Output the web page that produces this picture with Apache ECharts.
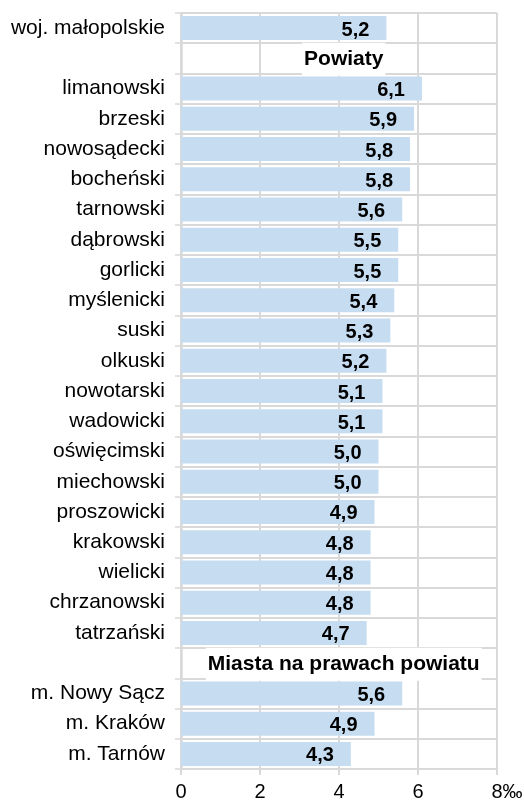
<!DOCTYPE html>
<html><head><meta charset="utf-8">
<script src="https://cdn.jsdelivr.net/npm/echarts@6/dist/echarts.min.js"></script>
<style>html,body{margin:0;padding:0;background:#fff}#c{width:524px;height:801px}</style>
</head><body><div id="c"></div>
<script>
const categories = ['woj. małopolskie','','limanowski','brzeski','nowosądecki','bocheński','tarnowski','dąbrowski','gorlicki','myślenicki','suski','olkuski','nowotarski','wadowicki','oświęcimski','miechowski','proszowicki','krakowski','wielicki','chrzanowski','tatrzański','','m. Nowy Sącz','m. Kraków','m. Tarnów'];
const values = [5.2,null,6.1,5.9,5.8,5.8,5.6,5.5,5.5,5.4,5.3,5.2,5.1,5.1,5.0,5.0,4.9,4.8,4.8,4.8,4.7,null,5.6,4.9,4.3];
const headers = [{row:1,text:'Powiaty'},{row:21,text:'Miasta na prawach powiatu'}];
const xTicks = [0,2,4,6,8];
const unit = '‰';

const headerX = 4.12;
const chart = echarts.init(document.getElementById('c'));
const font = 'Liberation Sans, Arial, sans-serif';
chart.setOption({
  animation:false,
  grid:{left:181,right:27,top:13,bottom:32,outerBoundsMode:'none',containLabel:false},
  xAxis:{type:'value',min:0,max:8,interval:2,
    axisLine:{show:false},
    axisTick:{show:true,length:6,lineStyle:{color:'#d9d9d9',width:2}},
    splitLine:{show:true,lineStyle:{color:'#d9d9d9',width:2}},
    axisLabel:{margin:13,color:'#000',fontSize:20,fontFamily:font,
      formatter:v=> v===xTicks[xTicks.length-1] ? '{s|'+v+unit+'}' : String(v),
      rich:{s:{fontSize:20,fontFamily:font,color:'#000',padding:[0,0,0,20]}}}
  },
  yAxis:{type:'category',data:categories,inverse:true,
    axisLine:{show:true,lineStyle:{color:'#d9d9d9',width:2.5}},
    axisTick:{show:true,length:6,lineStyle:{color:'#d9d9d9',width:1.5}},
    splitLine:{show:true,lineStyle:{color:'#d9d9d9',width:2}},
    axisLabel:{margin:16,color:'#000',fontSize:21,fontFamily:font}
  },
  series:[{
    type:'bar',data:values,barWidth:24,
    itemStyle:{color:'#c6dcf1'},
    label:{show:true,position:'insideRight',distance:17,color:'#000',fontWeight:'bold',fontSize:20,fontFamily:font,
      formatter:p=>p.value==null?'':p.value.toFixed(1).replace('.',','),offset:[0,2]}
  },{
    type:'scatter',symbolSize:0,silent:true,z:5,
    itemStyle:{opacity:1},
    data:headers.map(h=>({value:[headerX,h.row],name:h.text})),
    label:{show:true,position:'inside',formatter:p=>p.name,color:'#000',opacity:1,fontWeight:'bold',fontSize:21,fontFamily:font,
      backgroundColor:'#fff',padding:[6,2,6,2],offset:[0,1]}
  }]
});
</script></body></html>
